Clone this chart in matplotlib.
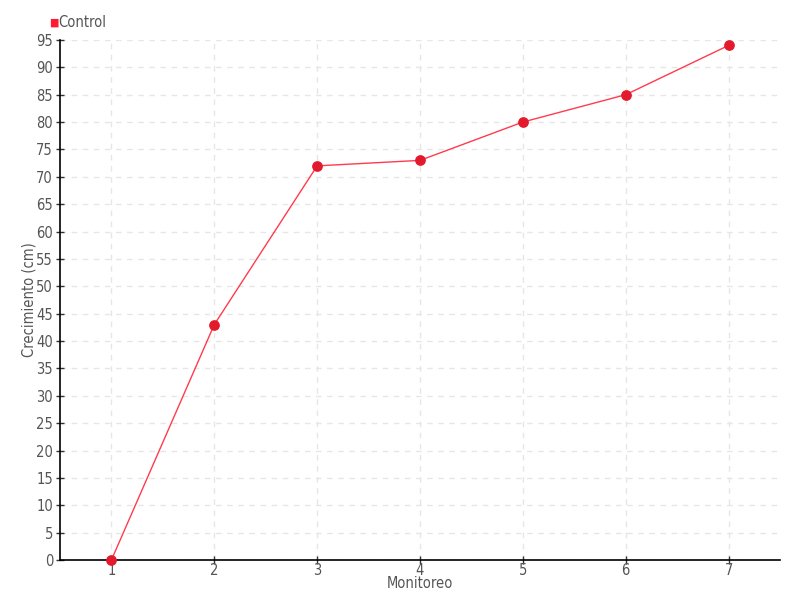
import matplotlib.pyplot as plt
import numpy as np

monitoreo = [1, 2, 3, 4, 5, 6, 7]
control = [0, 43, 72, 73, 80, 85, 94]

plt.rcParams['font.family'] = ['DejaVu Sans']
plt.rcParams['font.stretch'] = 'condensed'

fig = plt.figure(figsize=(8, 6), dpi=100)
ax = fig.add_axes([0.075, 0.0667, 0.9, 0.8667])

ax.plot(monitoreo, control, color='#ff3b4e', linewidth=1, zorder=3)
ax.scatter(monitoreo, control, s=45, color='#e31a2b', zorder=4, clip_on=False)

ax.set_xlim(0.5, 7.5)
ax.set_ylim(0, 95)
ax.set_xticks(monitoreo)
ax.set_yticks(np.arange(0, 96, 5))

ax.grid(True, color='#e6e6e6', linestyle=(0, (4, 4)), linewidth=1)
ax.set_axisbelow(True)
for s in ['top', 'right']:
    ax.spines[s].set_visible(False)
ax.spines['left'].set_linewidth(1.2)
ax.spines['bottom'].set_linewidth(1.2)
ax.tick_params(direction='inout', length=6, width=1, colors='#333333',
               labelcolor='#555555', labelsize=10.5)
ax.tick_params(axis='x', pad=-1)
ax.tick_params(axis='y', pad=2)

ax.set_xlabel('Monitoreo', color='#555555', fontsize=10.5, labelpad=-1)
ax.set_ylabel('Crecimiento (cm)', color='#555555', fontsize=10.5, labelpad=-0.5)

fig.text(0.061, 0.963, '\u25a0', color='#ff1a33', fontsize=8, va='center')
fig.text(0.073, 0.963, 'Control', color='#555555', fontsize=10.5, va='center')

fig.savefig('out.png', dpi=100)
